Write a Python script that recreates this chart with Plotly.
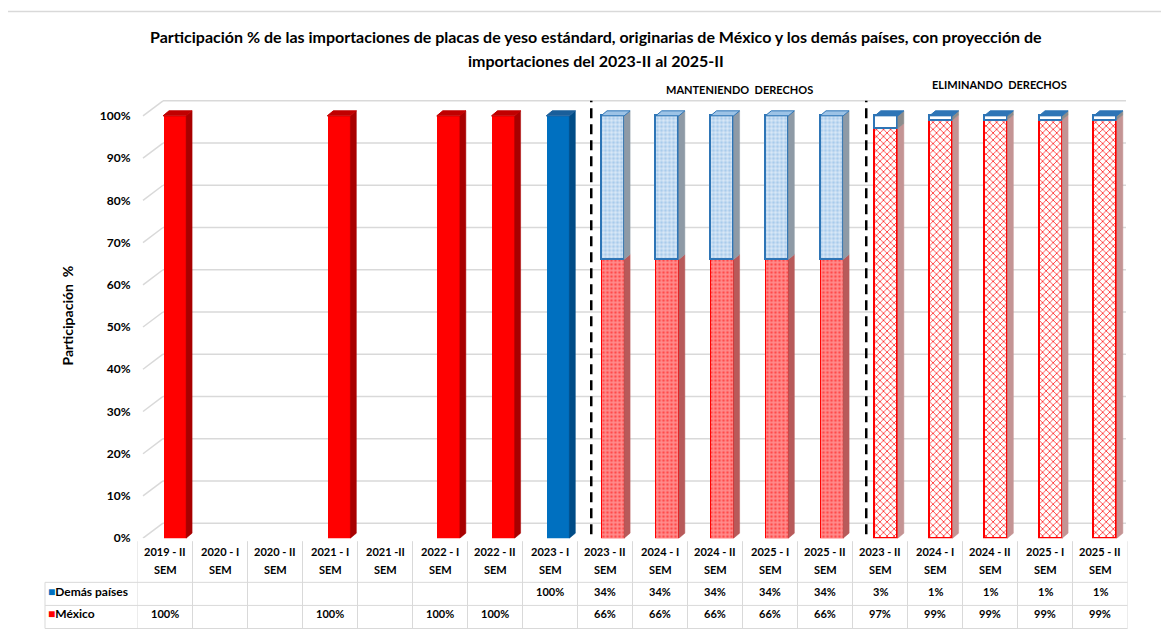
import plotly.graph_objects as go

# ---------------- data ----------------
periods = ["2019 - II", "2020 - I", "2020 - II", "2021 - I", "2021 -II", "2022 - I", "2022 - II", "2023 - I",
           "2023 - II", "2024 - I", "2024 - II", "2025 - I", "2025 - II",
           "2023 - II", "2024 - I", "2024 - II", "2025 - I", "2025 - II"]
period_suffix = "SEM"
mexico = [1.00, None, None, 1.00, None, 1.00, 1.00, None,
          0.66, 0.66, 0.66, 0.66, 0.66,
          0.97, 0.99, 0.99, 0.99, 0.99]
demas = [None, None, None, None, None, None, None, 1.00,
         0.34, 0.34, 0.34, 0.34, 0.34,
         0.03, 0.01, 0.01, 0.01, 0.01]
scenario = ["hist"] * 8 + ["mant"] * 5 + ["elim"] * 5
scenario_titles = {"mant": "MANTENIENDO  DERECHOS", "elim": "ELIMINANDO  DERECHOS"}
series_names = ["Demás países", "México"]
y_ticks = [0, 0.1, 0.2, 0.3, 0.4, 0.5, 0.6, 0.7, 0.8, 0.9, 1.0]
title_lines = ["Participación % de las importaciones de placas de yeso estándard, originarias de México y los demás países, con proyección de",
               "importaciones del 2023-II al 2025-II"]
y_title = "Participación  %"

# ---------------- geometry helpers (positions given in screenshot pixels) ----------------
W, H = 1169, 629
FONT = "Lato"
def fx(x):            # screenshot x -> figure px
    return x - 8
def fy(y):            # screenshot y -> figure px
    return (y - 6.5) / 0.9857
def px(x):
    return fx(x) / W
def py(y):
    return 1 - fy(y) / H
def pya(y):           # annotation (text) vertical position
    return py(y - 3)

n = len(periods)
X0_PX, STEP = 165.0, 55.0          # screenshot x of first category centre, spacing
Y0_REF, Y1_REF = 535.0, 114.0      # screenshot y of 0 % and 100 %
Y_TOP = 1.06
UNIT = Y0_REF - Y1_REF             # screenshot px per 100 %
BW = 0.42
DX = 6.0 / STEP
DY = 5.0 / UNIT
BACK = 15.0 / UNIT
offsets = [(-2.0 - 0.25 * i) / STEP for i in range(n)]

f0, f1 = fy(Y0_REF), fy(Y1_REF)
ftop = f1 - (Y_TOP - 1) * (f0 - f1)
ydomain = [1 - f0 / H, 1 - ftop / H]
xdomain = [px(X0_PX - STEP / 2), px(X0_PX + STEP * (n - 0.5))]

styles = {
    ("hist", "México"): dict(color="#FF0000", pattern=None, line=("#FF0000", 0), side="#A80000", top="#C00000"),
    ("hist", "Demás países"): dict(color="#0070C0", pattern=None, line=("#0070C0", 0), side="#004C87", top="#1A5E9A"),
    ("mant", "México"): dict(color="#FF8A8A", pattern=dict(shape=".", fgcolor="#FF4A4A", bgcolor="#FF8C8C", size=4, solidity=0.35, fillmode="replace"),
                             line=("#FF0000", 1), side="#B85A5A", top="#E07070"),
    ("mant", "Demás países"): dict(color="#B9D6F0", pattern=dict(shape="+", fgcolor="#FFFFFF", bgcolor="#A9CBEB", size=4, solidity=0.3, fillmode="replace"),
                                   line=("#2E75B6", 1.5), side="#8E9AA6", top="#9DC3E6"),
    ("elim", "México"): dict(color="#FFFFFF", pattern=dict(shape="x", fgcolor="#FF2A2A", bgcolor="#FFFFFF", size=5, solidity=0.3, fillmode="replace"),
                             line=("#FF0000", 1.5), side="#C49494", top="#FF8080"),
    ("elim", "Demás países"): dict(color="#FFFFFF", pattern=None, line=("#2E75B6", 1.5), side="#8C8C8C", top="#2E75B6"),
}
label_shift = {"mant": 0.45, "elim": 0.18}
label_ypx = {"mant": 91, "elim": 86}

fig = go.Figure()

# ---------------- bars (front faces) ----------------
for sc in ["hist", "mant", "elim"]:
    for name, vals in [("México", mexico), ("Demás países", demas)]:
        st = styles[(sc, name)]
        yv = [v if (scenario[i] == sc and v is not None) else None for i, v in enumerate(vals)]
        if all(v is None for v in yv):
            continue
        marker = dict(color=st["color"], line=dict(color=st["line"][0], width=st["line"][1]))
        if st["pattern"]:
            marker["pattern"] = st["pattern"]
        fig.add_trace(go.Bar(x=list(range(n)), y=yv, width=BW, offset=offsets, name=name,
                             marker=marker, showlegend=False, hoverinfo="skip"))

# ---------------- 3-D side and top faces ----------------
for sc in ["hist", "mant", "elim"]:
    for name in ["México", "Demás países"]:
        st = styles[(sc, name)]
        sx, sy, tx, ty = [], [], [], []
        for i in range(n):
            if scenario[i] != sc:
                continue
            m = mexico[i] or 0
            d = demas[i] or 0
            if name == "México":
                b, t = 0, m
                is_top = d == 0
            else:
                b, t = m, m + d
                is_top = True
            if t - b <= 0:
                continue
            x0 = i + offsets[i]
            x1 = x0 + BW
            sx += [x1, x1 + DX, x1 + DX, x1, x1, None]
            sy += [b, b + DY, t + DY, t, b, None]
            if is_top:
                tx += [x0, x0 + DX, x1 + DX, x1, x0, None]
                ty += [t, t + DY, t + DY, t, t, None]
        if sx:
            fig.add_trace(go.Scatter(x=sx, y=sy, mode="lines", fill="toself", fillcolor=st["side"],
                                     line=dict(color=st["side"], width=0.5), showlegend=False, hoverinfo="skip"))
        if tx:
            lc = st["line"][0] if st["line"][1] > 0 else st["top"]
            fig.add_trace(go.Scatter(x=tx, y=ty, mode="lines", fill="toself", fillcolor=st["top"],
                                     line=dict(color=lc, width=1), showlegend=False, hoverinfo="skip"))

shapes = []
annotations = []

def ann(text, x, y, xref="paper", yref="paper", size=12, family=FONT, xanchor="center", yanchor="middle", **kw):
    d = dict(text=text, x=x, y=y, xref=xref, yref=yref, showarrow=False, xanchor=xanchor, yanchor=yanchor,
             font=dict(family=family, size=size, color="black"))
    d.update(kw)
    annotations.append(d)

# ---------------- 3-D grid (back wall + left wall diagonals) ----------------
GRID = "#D9D9D9"
for v in y_ticks:
    shapes.append(dict(type="line", xref="paper", yref="y", x0=px(163), x1=px(1126), y0=v + BACK, y1=v + BACK,
                       line=dict(color=GRID, width=1.5), layer="below"))
    shapes.append(dict(type="line", xref="paper", yref="y", x0=px(143), x1=px(163), y0=v, y1=v + BACK,
                       line=dict(color=GRID, width=1.5), layer="below"))

# ---------------- scenario separators ----------------
bounds = [i for i in range(1, n) if scenario[i] != scenario[i - 1]]
for bi in bounds:
    shapes.append(dict(type="line", xref="x", yref="paper", x0=bi - 0.25, x1=bi - 0.25, y0=py(531), y1=py(99),
                       line=dict(color="black", width=2.5, dash="10px,6px")))
for sc, label in scenario_titles.items():
    idx = [i for i in range(n) if scenario[i] == sc]
    cx = (idx[0] + idx[-1]) / 2 + label_shift[sc]
    ann("<b>" + label + "</b>", cx, pya(label_ypx[sc]), xref="x", size=11)

# ---------------- data table ----------------
TL = "#D9D9D9"
for k in range(n + 1):
    shapes.append(dict(type="line", xref="x", yref="paper", x0=k - 0.5, x1=k - 0.5, y0=py(538), y1=py(625),
                       line=dict(color=TL, width=1)))
for yy in [579, 602, 625]:
    shapes.append(dict(type="line", xref="paper", yref="paper", x0=px(45), x1=px(1127.5), y0=py(yy), y1=py(yy),
                       line=dict(color=TL, width=1)))
shapes.append(dict(type="line", xref="paper", yref="paper", x0=px(45), x1=px(45), y0=py(579), y1=py(625),
                   line=dict(color=TL, width=1)))

for i, p in enumerate(periods):
    ann("<b>" + p + "</b>", i, pya(551), xref="x", size=11)
    ann("<b>" + period_suffix + "</b>", i, pya(569), xref="x", size=11)

row_y = {"Demás países": 591, "México": 613}
row_vals = {"Demás países": demas, "México": mexico}
row_col = {"Demás países": "#0070C0", "México": "#FF0000"}
for name in series_names:
    ann('<span style="color:%s">■</span><b>%s</b>' % (row_col[name], name), px(46), pya(row_y[name]),
        xanchor="left", size=12)
    for i, v in enumerate(row_vals[name]):
        if v is None:
            continue
        ann("<b>%d%%</b>" % round(v * 100), i, pya(row_y[name]), xref="x", size=11)

# ---------------- titles ----------------
ann("<b>" + title_lines[0] + "</b>", px(596), pya(38), size=16)
ann("<b>" + title_lines[1] + "</b>", px(596), pya(62), size=16)
ann("<b>" + y_title + "</b>", px(67), pya(316), size=14, textangle=-90)

# chart-area border
shapes.append(dict(type="rect", xref="paper", yref="paper", x0=px(6), x1=px(1185), y0=py(645), y1=py(10),
                   line=dict(color="#D9D9D9", width=1.5)))

fig.update_layout(
    width=W, height=H,
    margin=dict(l=0, r=0, t=0, b=0),
    paper_bgcolor="white", plot_bgcolor="white",
    barmode="stack", bargap=0,
    showlegend=False,
    shapes=shapes, annotations=annotations,
    xaxis=dict(domain=xdomain, range=[-0.5, n - 0.5],
               showticklabels=False, showgrid=False, zeroline=False, showline=False, fixedrange=True),
    yaxis=dict(domain=ydomain, range=[0, Y_TOP],
               tickvals=y_ticks, ticktext=["<b>%d%%</b>" % round(v * 100) for v in y_ticks],
               tickfont=dict(family=FONT, size=12, color="black"), ticklabelstandoff=6,
               showgrid=False, zeroline=False, showline=False, fixedrange=True),
)

fig.write_html("out.html")
